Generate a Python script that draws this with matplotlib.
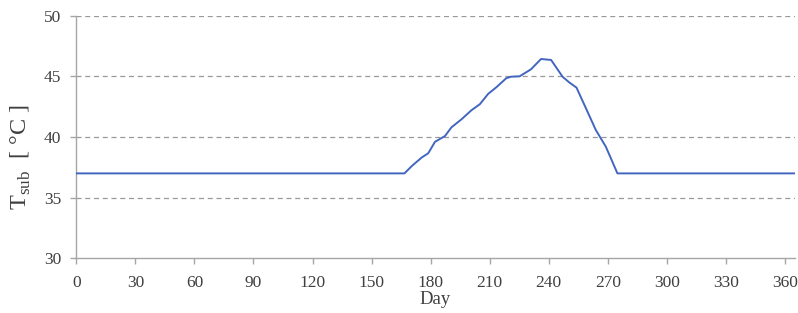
import matplotlib
matplotlib.use("Agg")
import matplotlib.pyplot as plt

# substrate temperature over the year
days = [0, 166.7, 170.4, 175.4, 178.8, 182.2, 187.3, 190.6, 195.7, 200.7,
        205.0, 209.2, 213.4, 218.4, 220.9, 225.2, 227.7, 231.0, 236.1, 237.8,
        241.2, 247.0, 250.4, 254.1, 259.7, 263.9, 269.0, 274.9, 365]
t_sub = [37.0, 37.0, 37.6, 38.3, 38.66, 39.6, 40.08, 40.8, 41.46, 42.2,
         42.7, 43.55, 44.1, 44.84, 44.97, 45.0, 45.25, 45.58, 46.43, 46.4,
         46.35, 44.97, 44.5, 44.07, 42.08, 40.58, 39.2, 37.0, 37.0]

x_ticks = list(range(0, 361, 30))
y_ticks = [30, 35, 40, 45, 50]

plt.rcParams["font.family"] = ["Liberation Serif", "DejaVu Serif"]
plt.rcParams["mathtext.fontset"] = "custom"
plt.rcParams["mathtext.rm"] = "Liberation Serif"

axis_grey = "#a6a6a6"
text_col = "#404040"

fig = plt.figure(figsize=(7.98, 3.13), dpi=100)
ax = fig.add_axes([0.0956, 0.1747, 0.9004, 0.7753])

for y in y_ticks[1:]:
    ax.axhline(y, color="#999999", lw=0.9, ls=(0, (4, 3)), zorder=1)

ax.plot(days, t_sub, color="#4266c0", lw=1.4, zorder=3)

ax.set_xlim(0, 365)
ax.set_ylim(30, 50)
ax.set_xticks(x_ticks)
ax.set_yticks(y_ticks)

for side in ["top", "right"]:
    ax.spines[side].set_visible(False)
for side in ["left", "bottom"]:
    ax.spines[side].set_color(axis_grey)
    ax.spines[side].set_linewidth(1.0)

ax.tick_params(axis="both", colors=axis_grey, labelcolor=text_col,
               labelsize=12.5, length=4, width=1.0, direction="out")
ax.tick_params(axis="x", pad=8)
ax.tick_params(axis="y", pad=7)

ax.set_xlabel("Day", fontsize=13.5, color=text_col)
ax.xaxis.set_label_coords(0.5, -0.133)
ax.set_ylabel(r"T$_{\mathrm{sub}}$  [ °C ]", fontsize=17.5, color=text_col)
ax.yaxis.set_label_coords(-0.060, 0.418)

fig.savefig("out.png", dpi=100)
